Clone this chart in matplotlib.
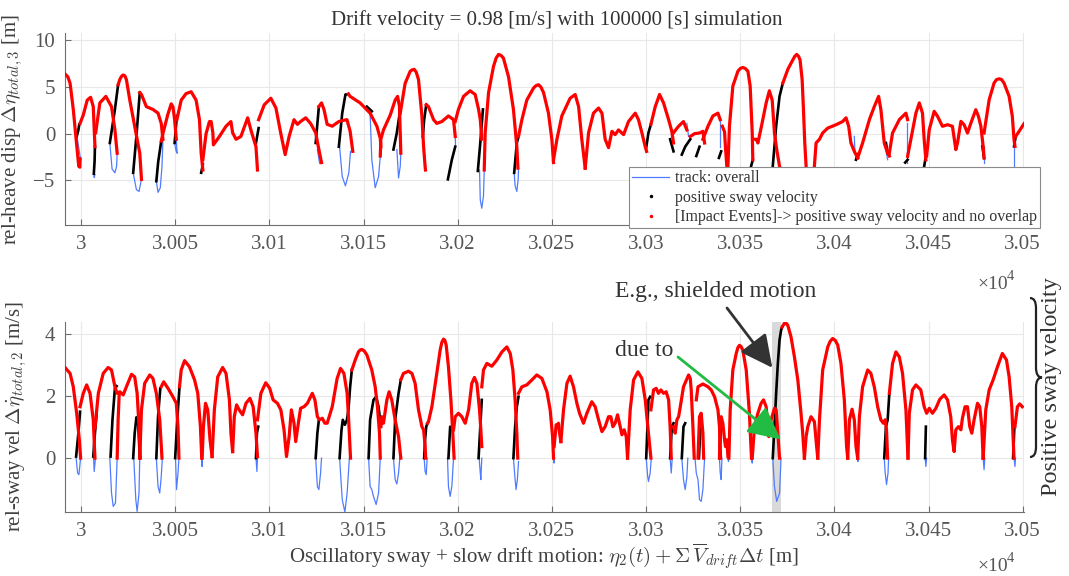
import matplotlib
matplotlib.use("Agg")
import matplotlib.pyplot as plt
from matplotlib.lines import Line2D
from matplotlib.path import Path
from matplotlib.patches import PathPatch

plt.rcParams['font.family'] = ['Liberation Serif', 'DejaVu Serif']
plt.rcParams['mathtext.fontset'] = 'cm'

# sway position is stored as offset [m] from X0
X0 = 30000.0

# ---- rel-heave displacement [m] -------------------------------------------
HEAVE_RED = [
    [(-8.5, 6.4), (-7.0, 6.1), (-5.8, 5.4), (-4.1, 2.6), (-2.6, -0.6), (-1.2, -3.5), (-0.6, -3.6), (-0.5, -2.7)],
    [(-0.5, 1.1), (1.2, 2.0), (3.3, 3.6), (5.1, 3.9), (6.5, 2.9), (7.0, 0.5), (7.4, -1.4)],
    [(7.8, 0.1), (10.0, 3.3), (13.2, 4.0), (16.2, 2.9), (18.0, 0.4), (19.2, -2.1)],
    [(19.7, 5.25), (20.6, 5.8), (21.5, 6.15), (22.4, 6.3), (23.3, 6.2), (24.1, 5.8), (25.9, 3.6), (28.5, 0.8),
     (31.2, -2.1), (32.1, -4.9)],
    [(31.2, 4.4), (32.1, 4.2), (34.7, 2.9), (38.2, 2.6), (40.9, 2.2), (42.6, 1.1), (43.5, -0.6)],
    [(42.6, -0.8), (43.5, 0.0), (46.0, 2.0), (47.9, 3.2), (48.8, 2.9), (49.7, 1.5), (50.6, -0.6)],
    [(50.9, 1.5), (53.2, 3.6), (55.8, 4.3), (58.5, 4.5), (61.1, 3.6), (62.9, 1.5), (63.8, -2.1), (64.7, -3.9)],
    [(64.7, -2.8), (66.4, 0.0), (68.2, 1.3), (69.1, 1.3), (70.0, 0.1), (70.3, -1.2), (73.5, -0.3), (77.0, 0.8),
     (79.6, 1.3), (80.5, 0.1), (82.3, -0.6), (84.9, -0.3), (88.5, 1.7), (90.2, 0.4), (92.9, -1.4), (93.7, -3.9)],
    [(94.3, 1.5), (97.3, 3.1), (100.8, 3.8), (103.5, 2.75), (106.1, 0.0), (108.4, -2.25), (110.5, -0.3),
     (113.1, 1.5), (114.9, 1.0), (116.6, 1.3), (119.3, 1.7), (121.9, 1.1), (124.6, 0.1), (126.3, -1.7), (127.7, -3.1)],
    [(126.3, 2.9), (127.7, 3.3), (129.0, 2.6), (130.7, 1.0), (133.4, 0.8), (136.9, 1.3), (138.7, 1.4),
     (141.2, 1.5), (142.9, 0.25), (144.3, -1.9)],
    [(142.0, 4.25), (142.9, 4.0), (148.2, 3.3), (153.5, 2.2), (157.1, 0.8), (158.9, -0.5), (159.2, -1.4)],
    [(158.9, -2.4), (159.2, -0.6), (160.6, 0.4), (164.2, 2.0), (166.8, 3.6), (168.1, 4.0), (169.1, 2.9),
     (169.5, 0.1), (169.8, -2.1)],
    [(169.5, 2.2), (172.1, 5.4), (174.8, 6.7), (175.9, 6.85), (176.9, 6.9), (178.0, 6.6), (179.2, 5.8),
     (181.0, 1.9), (181.9, -1.4), (182.7, -3.5), (182.9, -3.9)],
    [(183.3, 3.1), (184.5, 2.9), (187.2, 1.5), (188.9, 1.1), (191.6, 1.3), (195.1, 1.9), (197.8, 1.5), (198.7, -0.3)],
    [(198.7, 1.3), (200.4, 2.6), (203.1, 4.0), (206.6, 4.6), (209.3, 4.2), (211.1, 2.6), (212.0, 1.5), (212.8, -0.6)],
    [(214.1, -3.9), (214.6, 0.1), (216.4, 4.4), (219.0, 7.2), (220.4, 8.1), (221.7, 8.5), (223.0, 8.4),
     (224.3, 8.1), (227.0, 6.1), (229.6, 2.6), (231.4, -1.4), (232.0, -3.7)],
    [(232.3, -0.3), (234.1, 1.5), (236.7, 3.6), (240.3, 4.9), (241.6, 5.15), (242.9, 5.25), (244.2, 5.0),
     (245.6, 4.4), (248.2, 2.2), (250.0, -0.6), (250.9, -3.1)],
    [(250.9, -2.8), (252.7, -0.6), (255.3, 1.9), (259.7, 3.8), (262.4, 4.2), (264.2, 2.9), (265.9, -0.6), (267.7, -3.7)],
    [(267.7, -3.7), (269.5, 0.1), (272.1, 2.2), (274.8, 2.75), (276.6, 2.2), (278.3, -0.6), (280.1, -1.5),
     (281.9, 0.25), (283.6, -0.1), (285.4, 0.4), (288.1, -0.1), (290.7, 1.3), (294.3, 2.2), (296.0, 1.5),
     (297.8, 0.1), (299.6, -1.4), (300.3, -1.9)],
    [(302.6, 1.0), (304.9, 2.9), (307.2, 4.2), (309.3, 3.3), (312.0, 1.5), (313.7, 0.25), (314.6, -1.0)],
    [(314.6, 0.1), (317.3, 0.8), (319.9, 1.3), (321.7, 0.4)],
    [(323.5, -0.3), (325.8, 0.0), (328.4, 0.07), (330.2, 0.25), (331.1, -1.0)],
    [(330.2, -0.6), (332.9, 0.8), (335.5, 1.9), (338.2, 2.2), (339.4, 1.5)],
    [(340.5, 0.8), (341.7, 0.2), (342.2, -1.5), (342.9, -3.5), (343.3, -5.5)],
    [(343.5, -3.5), (344.3, 0.8), (346.1, 5.1), (348.8, 6.7), (350.1, 7.0), (351.4, 7.1), (352.7, 7.0),
     (354.1, 6.7), (355.3, 5.1), (356.4, 0.07), (356.7, -2.8)],
    [(356.7, -0.6), (358.5, -0.6), (359.4, -1.0), (361.1, 0.6), (363.8, 3.3), (365.5, 4.6), (367.0, 3.6),
     (368.2, 0.07), (369.4, -1.7), (370.9, -3.5), (371.7, -3.9)],
    [(372.6, 5.4), (375.3, 6.9), (377.9, 7.9), (379.0, 8.3), (380.0, 8.5), (381.0, 8.3), (381.8, 7.9),
     (382.9, 5.8), (383.6, 2.6), (384.3, -1.0), (385.0, -3.5), (385.6, -5.5)],
    [(388.8, -5.5), (389.4, -3.5), (390.3, -1.0), (392.1, -0.6), (393.8, 0.07), (396.5, 0.6), (400.9, 0.96),
     (404.4, 1.3), (406.2, 1.7), (407.6, 0.8), (408.8, -1.0), (410.6, -1.9), (412.4, -2.6)],
    [(412.4, -2.6), (415.0, -1.0), (418.6, 1.5), (421.2, 2.9), (423.5, 4.0), (424.7, 2.6), (426.5, -1.0),
     (428.3, -2.1), (429.2, -2.4)],
    [(429.2, -2.1), (430.9, 0.07), (434.5, 1.5), (438.0, 2.2), (438.9, 1.5)],
    [(438.9, -2.43), (440.6, -0.64), (443.3, 2.2), (445.1, 3.3), (446.8, 2.2), (447.7, -0.64), (448.6, -2.8)],
    [(449.0, -2.4), (450.4, 0.43), (453.0, 2.4), (454.8, 1.86), (457.4, 0.79), (460.1, 0.96), (462.7, 0.79),
     (464.5, -1.71), (465.4, -1.0), (467.2, 1.32), (468.9, 0.96), (470.7, 0.07), (472.5, 1.14), (475.1, 2.57),
     (476.5, 1.86), (477.8, 0.79), (479.0, -1.36), (479.5, -2.61)],
    [(479.5, 0.07), (482.2, 3.64), (484.8, 5.43), (486.1, 5.8), (487.5, 5.89), (488.8, 5.8), (490.1, 5.43),
     (492.8, 4.0), (494.5, 1.86), (495.4, -0.64), (495.9, -1.36)],
    [(496.3, -0.29), (498.1, 0.25), (500.7, 1.07)],
]

HEAVE_BLACK = [
    [(-2.3, -0.3), (-1.5, 0.3), (-0.9, 1.0)],
    [(7.4, -1.4), (7.2, -3.0), (6.8, -4.3)],
    [(15.3, -1.0), (18.0, 2.6), (19.7, 5.25)],
    [(27.7, -4.2), (29.4, -0.3), (31.2, 4.4)],
    [(40.0, -5.1), (41.0, -3.0), (42.6, -0.8)],
    [(49.7, -1.0), (50.9, 1.9)],
    [(63.8, -4.2), (64.7, -3.3)],
    [(92.9, -1.0), (94.3, 0.6)],
    [(124.6, -1.0), (126.3, 2.9)],
    [(136.9, -1.4), (138.7, 2.2), (140.4, 4.2), (142.0, 4.25)],
    [(151.8, 2.9), (154.4, 2.4)],
    [(165.9, -1.7), (167.7, 0.1), (169.5, 2.6)],
    [(181.5, -0.3), (182.2, 1.5), (183.3, 3.1)],
    [(194.8, -4.9), (196.9, -2.8), (198.7, -1.4)],
    [(210.7, -4.0), (212.0, -1.0), (213.4, 2.6)],
    [(230.0, -4.2), (231.4, -1.0), (232.3, -0.3)],
    [(300.1, -1.5), (301.3, 0.1), (302.6, 1.0)],
    [(312.8, -0.6), (314.6, -1.9)],
    [(319.0, -2.25), (320.8, -1.4), (323.5, -0.6)],
    [(326.7, -2.4), (328.4, -1.4)],
    [(338.7, -2.6), (339.9, -1.9)],
    [(355.8, -3.5), (356.7, -2.8)],
    [(367.3, -3.5), (369.1, 0.8), (370.9, 4.0), (372.6, 5.4)],
    [(411.5, -2.8), (412.4, -2.2)],
    [(427.4, -1.0), (428.3, -2.1)],
    [(437.6, -3.1), (438.9, -2.8)],
    [(447.7, -3.5), (448.6, -2.4)],
    [(478.6, -1.36), (479.5, -2.61)],
    [(495.4, -1.36), (496.3, -0.29)],
]

HEAVE_BLUE = [
    [(-2.0, -0.5), (-1.2, -1.5), (-0.5, -2.4), (0.0, -2.8)],
    [(6.8, -4.3), (7.0, -4.7), (7.4, -4.4)],
    [(19.2, -2.1), (18.9, -3.5), (18.0, -4.2), (16.5, -3.8), (15.3, -1.0)],
    [(32.1, -4.9), (30.8, -6.2), (29.4, -6.0), (27.7, -4.2)],
    [(43.5, -0.6), (43.0, -3.5), (42.1, -5.8), (40.9, -6.3), (40.0, -5.1)],
    [(50.6, -0.6), (50.9, -1.7), (51.1, -2.1), (50.4, -1.8), (49.7, -1.0)],
    [(125.5, -1.7), (126.7, -3.2)],
    [(137.3, -1.4), (138.7, -4.6), (140.4, -5.6), (142.2, -4.2), (143.1, -1.9)],
    [(153.5, 2.2), (154.4, -2.8), (156.2, -5.8), (158.0, -4.6), (158.9, -2.4)],
    [(167.7, -1.7), (168.6, -4.75), (169.5, -3.5), (169.8, -2.1)],
    [(198.7, -0.3), (198.9, -1.4)],
    [(211.6, -3.9), (212.0, -7.1), (212.8, -8.0), (213.7, -6.7), (214.1, -3.9)],
    [(230.0, -4.2), (230.5, -5.6), (231.4, -6.2), (232.1, -4.9), (232.3, -3.9)],
    [(321.7, 1.1), (322.6, -0.3)],
    [(339.4, 1.5), (339.4, -1.4)],
    [(410.6, -0.3), (411.0, -2.2)],
    [(427.4, -1.7), (428.3, -2.8)],
    [(438.4, 1.14), (438.4, -3.1)],
    [(479.5, -1.36), (479.5, -3.2)],
    [(495.4, -1.4), (495.4, -3.5)],
]

# ---- rel-sway velocity [m/s] ----------------------------------------------
SWAY_RED = [
    [(-8.5, 2.91), (-5.8, 2.72), (-4.1, 2.29), (-2.3, 1.44), (-0.9, 0.59), (-0.2, 0.0)],
    [(-0.5, 1.65), (1.2, 2.08), (3.0, 2.35), (4.8, 2.08), (6.5, 1.23), (7.4, 0.0)],
    [(7.4, 0.96), (9.2, 2.08), (11.8, 2.72), (14.4, 2.91), (16.2, 2.83), (18.0, 2.29), (19.2, 2.08),
     (20.6, 2.13), (22.4, 2.03), (24.1, 2.29), (26.8, 2.69), (28.5, 2.61), (29.8, 2.08), (30.8, 1.01), (31.5, 0.0)],
    [(19.2, 0.0), (19.7, 1.23), (20.3, 2.08)],
    [(31.2, 0.0), (32.1, 1.55), (33.8, 2.4), (36.5, 2.67), (38.2, 2.56), (40.0, 2.08), (41.8, 1.23), (43.0, 0.0)],
    [(42.6, 2.29), (43.9, 2.45), (46.2, 2.24), (48.8, 1.97), (50.6, 1.76), (51.5, 1.01), (52.0, 0.0)],
    [(52.3, 2.29), (53.2, 2.83), (55.0, 3.13), (57.6, 2.93), (60.3, 2.51), (62.0, 2.08), (63.4, 1.01), (64.1, 0.0)],
    [(64.3, 0.0), (65.0, 1.01), (66.1, 1.76), (67.3, 1.55), (68.5, 0.59), (69.6, 0.05)],
    [(69.6, 0.05), (70.8, 1.55), (72.6, 2.61), (75.2, 2.91), (77.0, 2.72), (78.8, 1.87), (79.6, 0.8), (80.5, 0.21)],
    [(80.5, 0.21), (81.4, 1.33), (82.6, 1.71), (84.0, 1.55), (85.8, 1.39), (87.6, 1.76), (89.7, 1.92),
     (91.4, 1.65), (92.9, 0.8), (93.7, 0.05)],
    [(93.7, 1.23), (95.5, 2.08), (98.1, 2.42), (100.2, 2.24), (102.0, 1.87), (104.3, 1.76), (106.1, 1.55),
     (107.8, 0.91), (109.1, 0.05), (110.5, 0.69), (111.7, 1.55), (113.1, 1.12), (114.0, 0.53), (115.4, 1.12),
     (116.6, 1.6), (118.4, 1.65), (120.2, 1.76), (122.8, 2.08), (124.2, 1.87), (125.5, 1.33), (126.7, 1.23),
     (128.1, 1.28), (129.5, 1.12), (130.7, 1.12), (133.4, 1.65), (136.0, 2.56), (137.8, 2.88), (139.6, 2.72),
     (141.3, 2.08), (142.2, 1.12), (143.1, 0.0)],
    [(143.8, 2.83), (145.6, 3.15), (147.3, 3.41), (148.2, 3.47), (149.1, 3.49), (150.4, 3.44), (151.8, 3.31),
     (154.4, 2.83), (156.2, 2.29), (157.4, 1.65), (158.5, 0.8), (158.9, 0.0)],
    [(159.2, 1.01), (159.7, 1.33), (160.6, 1.12), (162.4, 1.87), (163.6, 2.13), (165.0, 1.87), (166.8, 1.23),
     (168.6, 0.69), (169.8, 0.0)],
    [(169.8, 2.51), (171.2, 2.72), (173.9, 2.79), (175.7, 2.72), (177.4, 2.4), (179.2, 1.55), (181.0, 1.01),
     (181.9, 0.91), (182.7, 0.4), (183.0, 0.0)],
    [(184.0, 1.12), (184.5, 1.17), (186.3, 1.65), (188.9, 2.72), (190.7, 3.47), (191.6, 3.72), (192.5, 3.82),
     (193.2, 3.78), (193.9, 3.63), (195.1, 2.93), (196.4, 1.87), (197.4, 0.8), (198.1, 0.0)],
    [(197.8, 0.91), (198.7, 1.33), (200.4, 1.44), (202.2, 1.33), (204.0, 1.12), (205.8, 1.55), (207.5, 2.4),
     (208.9, 2.59), (210.2, 2.4), (211.6, 1.55), (212.3, 0.91), (212.8, 0.37)],
    [(212.8, 2.29), (213.7, 2.83), (215.5, 3.04), (218.1, 2.95), (220.8, 3.15), (223.5, 3.41), (226.1, 3.57),
     (227.9, 3.36), (229.3, 2.83), (230.5, 1.87), (231.4, 0.8), (231.9, 0.0)],
    [(232.3, 2.08), (234.1, 2.29), (236.7, 2.35), (239.4, 2.51), (242.0, 2.67), (244.7, 2.56), (247.4, 2.13),
     (249.1, 1.55), (250.4, 0.69), (250.9, 0.0)],
    [(251.2, 0.37), (252.3, 1.07), (253.0, 1.01), (253.5, 1.12), (254.1, 0.8), (254.8, 0.53)],
    [(254.8, 0.53), (256.2, 1.55), (258.0, 2.4), (259.7, 2.63), (261.5, 2.29), (263.3, 1.76), (264.7, 1.44),
     (266.8, 1.12), (268.6, 1.44), (271.2, 1.81), (273.0, 1.65), (274.8, 1.23), (276.6, 0.85), (278.3, 1.01),
     (280.1, 1.33), (281.3, 1.33), (282.4, 1.01), (283.6, 1.12), (284.9, 1.39), (286.3, 1.01), (287.2, 0.75),
     (288.4, 0.91), (289.5, 0.69), (290.2, 0.0)],
    [(290.2, 0.0), (291.6, 1.55), (293.4, 2.51), (295.7, 2.77), (297.8, 2.56), (299.6, 1.87), (301.3, 0.8), (302.6, 0.0)],
    [(302.6, 1.55), (304.0, 2.19), (305.4, 2.24), (306.6, 2.08), (307.9, 2.19), (309.3, 2.08), (310.7, 2.13),
     (312.0, 1.87), (312.8, 1.01), (313.4, 0.0)],
    [(314.6, 1.01), (315.5, 0.8), (316.4, 1.23), (317.3, 1.33), (318.2, 1.65), (319.9, 2.29), (322.6, 2.67),
     (323.5, 2.56), (324.0, 2.19), (324.9, 1.01), (325.6, 0.0)],
    [(326.7, 1.87), (327.6, 2.29), (330.2, 2.38), (332.9, 2.29), (334.6, 2.19), (336.4, 1.97), (338.2, 1.55),
     (339.0, 1.01), (339.6, 0.0)],
    [(327.6, 0.0), (328.4, 1.33), (329.3, 1.44), (330.2, 0.8), (330.6, 0.0)],
    [(339.0, 0.0), (339.4, 1.23), (339.9, 1.33), (340.8, 1.12), (341.7, 0.59), (342.2, 0.37), (342.9, 0.59), (343.5, 0.05)],
    [(344.0, 0.0), (344.7, 1.55), (346.1, 2.83), (347.9, 3.36), (348.8, 3.55), (349.6, 3.62), (350.5, 3.58),
     (351.4, 3.47), (353.2, 2.83), (354.9, 1.44), (356.0, 0.0)],
    [(356.4, 0.0), (357.6, 1.01), (359.4, 1.44), (361.1, 1.76), (362.4, 1.87), (363.8, 1.65), (364.7, 1.01),
     (365.2, 0.69), (366.4, 1.23), (368.2, 1.6), (369.1, 1.55), (370.0, 0.8), (370.9, 0.0)],
    [(372.3, 4.21), (373.9, 4.37), (375.3, 4.26), (377.0, 3.89), (378.8, 3.25), (380.6, 2.51), (382.3, 1.44),
     (383.2, 0.8), (384.1, 0.0)],
    [(384.1, 0.0), (385.0, 0.69), (385.9, 1.01), (387.6, 1.33), (389.4, 1.17), (390.6, 0.37), (391.2, 0.0)],
    [(391.2, 0.0), (392.1, 1.23), (393.8, 2.83), (396.5, 3.57), (397.8, 3.75), (399.1, 3.84), (400.5, 3.78),
     (401.8, 3.63), (403.5, 3.04), (405.3, 1.87), (406.5, 0.37), (407.1, 0.0)],
    [(407.1, 0.0), (408.0, 1.23), (409.4, 1.57), (410.6, 1.23), (411.5, 0.37), (412.4, 0.0)],
    [(412.4, 0.0), (413.3, 1.33), (415.0, 2.29), (417.7, 2.83), (419.4, 2.72), (421.2, 2.29), (423.0, 1.65),
     (424.7, 1.23), (426.0, 1.12), (427.0, 1.23), (427.7, 0.91), (428.3, 0.0)],
    [(429.2, 2.08), (430.9, 3.04), (432.7, 3.41), (434.5, 3.25), (436.2, 2.72), (438.0, 1.55), (439.1, 0.0)],
    [(439.1, 0.0), (439.8, 1.44), (441.5, 2.19), (443.3, 2.35), (445.9, 2.19), (447.7, 1.65), (449.0, 1.44),
     (450.4, 1.6), (452.1, 1.44), (453.9, 1.6), (456.0, 1.89), (458.3, 2.03), (460.1, 1.87), (461.8, 1.33),
     (462.7, 0.59), (463.6, 0.21), (464.5, 0.91), (465.9, 1.01), (467.2, 0.91), (468.0, 1.28), (469.4, 1.65),
     (470.7, 1.65), (471.9, 1.01), (473.0, 0.8), (474.2, 1.23), (476.0, 1.76), (477.2, 1.65), (478.3, 1.01), (479.0, 0.0)],
    [(479.0, 0.0), (480.4, 1.55), (482.2, 2.19), (484.3, 2.51), (486.6, 2.93), (489.2, 3.36), (491.4, 3.15),
     (492.8, 2.61), (494.2, 1.65), (495.4, 0.0)],
    [(495.9, 1.01), (497.2, 1.65), (498.4, 1.74), (499.8, 1.65)],
]

SWAY_BLACK = [
    [(-2.6, 0.05), (-1.4, 0.8), (-0.5, 1.49)],
    [(6.5, 0.05), (7.4, 0.8), (8.3, 1.44)],
    [(15.7, 0.05), (16.7, 1.23), (18.0, 2.24), (18.9, 2.31)],
    [(27.7, 0.0), (28.5, 0.8), (29.4, 1.31), (30.3, 1.23), (31.2, 0.0)],
    [(40.0, 0.0), (40.9, 1.33), (42.1, 2.24)],
    [(50.0, 0.0), (51.1, 1.23), (52.3, 2.29)],
    [(92.9, 0.0), (93.4, 0.8), (94.1, 1.01)],
    [(124.6, 0.0), (125.5, 0.8), (126.3, 1.23)],
    [(137.3, 0.0), (138.3, 0.9), (139.0, 1.23), (140.1, 1.07), (141.2, 1.23), (142.0, 1.55), (142.9, 2.29), (143.8, 2.83)],
    [(152.7, 0.0), (153.5, 1.23), (155.3, 1.87), (156.7, 1.97), (158.0, 1.65), (159.2, 1.01)],
    [(165.9, 0.0), (166.8, 1.23), (168.6, 2.08), (169.8, 2.51)],
    [(182.2, 0.0), (182.7, 0.6), (183.3, 1.01), (184.0, 1.12)],
    [(195.1, 0.0), (196.0, 1.01), (197.4, 0.91)],
    [(211.1, 0.0), (212.0, 1.01), (212.8, 1.87)],
    [(229.6, 0.0), (230.5, 1.01), (231.4, 1.65), (232.3, 1.97)],
    [(300.1, 0.0), (300.9, 1.23), (301.3, 1.87), (302.2, 1.97)],
    [(312.8, 0.0), (313.7, 1.01), (314.6, 1.12)],
    [(319.0, 0.0), (319.9, 1.01), (320.8, 1.12)],
    [(328.1, 0.0), (328.8, 0.9), (329.3, 1.3)],
    [(339.0, 0.0), (339.6, 0.8), (339.9, 1.23)],
    [(367.3, 0.0), (368.2, 1.01), (369.1, 2.08), (370.0, 3.04), (370.9, 3.79), (371.7, 4.1), (372.3, 4.21)],
    [(426.5, 0.0), (427.4, 1.01), (428.3, 1.23), (429.2, 2.08)],
    [(448.2, 0.0), (448.6, 1.01)],
    [(479.0, 0.0), (479.5, 1.01)],
    [(494.9, 0.0), (495.6, 1.01)],
]

SWAY_BLUE = [
    [(-2.6, 0.0), (-1.8, -0.48), (-1.1, -0.53), (-0.5, -0.16), (-0.2, 0.0)],
    [(6.7, 0.0), (7.0, -0.43), (7.6, -0.05)],
    [(15.3, 0.0), (16.2, -1.12), (17.1, -1.55), (18.3, -1.44), (19.2, 0.0)],
    [(28.0, 0.0), (29.1, -1.33), (29.8, -1.71), (30.8, -1.12), (31.2, 0.0)],
    [(40.0, 0.0), (40.9, -0.91), (41.8, -1.12), (42.6, -0.59), (43.2, 0.0)],
    [(50.2, 0.0), (50.7, -1.01), (51.5, -0.48), (52.0, 0.0)],
    [(64.1, 0.0), (64.3, -0.27), (64.4, 0.0)],
    [(92.9, 0.0), (93.4, -0.43), (93.7, 0.0)],
    [(124.6, 0.0), (125.5, -0.91), (126.3, -1.01), (127.2, -0.48), (127.7, 0.0)],
    [(137.3, 0.0), (138.7, -1.33), (140.1, -1.73), (141.3, -1.12), (142.5, 0.0)],
    [(152.7, 0.0), (153.5, -0.91), (154.4, -1.01), (155.3, -1.23), (156.7, -1.49), (158.0, -1.12), (158.9, 0.0)],
    [(165.9, 0.0), (166.8, -0.69), (167.7, -0.83), (168.6, -0.48), (169.3, 0.0)],
    [(182.2, 0.0), (182.7, -0.43), (183.3, -0.53), (183.8, 0.0)],
    [(194.6, 0.0), (195.1, -0.91), (196.0, -1.23), (196.9, -0.91), (197.8, 0.0)],
    [(211.4, 0.0), (212.0, -0.48), (212.3, -0.69), (212.8, 0.0)],
    [(229.6, 0.0), (230.5, -0.69), (231.0, -1.01), (231.7, -0.69), (232.3, -0.11)],
    [(250.9, 0.0), (251.2, -0.16), (251.4, 0.0)],
    [(300.1, 0.0), (300.9, -0.59), (301.3, -0.75), (302.2, -0.48), (302.8, 0.0)],
    [(312.8, 0.0), (313.4, -0.48), (313.9, 0.0)],
    [(319.0, 0.0), (319.9, -0.69), (320.8, -1.01), (321.7, -0.6), (322.2, 0.0)],
    [(326.0, 0.0), (326.7, -0.48), (327.6, -0.69), (328.4, -1.33), (329.3, -1.39), (330.2, -1.01), (331.1, 0.0)],
    [(339.0, 0.0), (339.4, -0.48), (339.9, -0.69), (340.3, 0.0)],
    [(343.5, 0.0), (343.8, -0.11), (344.0, 0.0)],
    [(356.0, 0.0), (356.4, -0.16), (356.6, 0.0)],
    [(367.3, 0.0), (368.2, -0.91), (369.4, -1.39), (370.9, -1.12), (371.7, 0.0)],
    [(412.4, 0.0), (412.5, -0.11), (412.7, 0.0)],
    [(426.5, 0.0), (427.0, -0.48), (427.7, -0.85), (428.5, -0.48), (428.8, 0.0)],
    [(448.2, 0.0), (448.6, -0.27), (449.0, 0.0)],
    [(479.0, 0.0), (479.5, -0.37), (479.9, 0.0)],
    [(495.4, 0.0), (495.9, -0.27), (496.2, 0.0)],
]

SHIELDED = (367.1, 371.9)
X_TICKS = [0, 50, 100, 150, 200, 250, 300, 350, 400, 450, 500]

BLUE = '#4f7cff'
AXIS_GRAY = '#6e6e6e'
TEXT_GRAY = '#404040'

W, H = 1069, 576


def px(x, y):
    """Figure pixel (from top-left) to figure fraction."""
    return x / W, 1 - y / H


def draw_track(ax, blue, black, red):
    for seg in blue + black + red:
        xs, ys = zip(*seg)
        ax.plot([X0 + v for v in xs], ys, color=BLUE, lw=0.9, zorder=2)
    for seg in black:
        xs, ys = zip(*seg)
        ax.plot([X0 + v for v in xs], ys, color='k', lw=1.9, zorder=3)
    for seg in red:
        xs, ys = zip(*seg)
        ax.plot([X0 + v for v in xs], ys, color='#ff0000', lw=2.3, zorder=4,
                solid_joinstyle='round')


def style_axes(ax):
    for side in ('top', 'right'):
        ax.spines[side].set_visible(False)
    for side in ('left', 'bottom'):
        ax.spines[side].set_color(AXIS_GRAY)
        ax.spines[side].set_linewidth(0.8)
    ax.set_axisbelow(True)
    ax.grid(True, color='#e8e8e8', lw=0.8)
    ax.tick_params(direction='in', length=4, width=0.8, color=AXIS_GRAY,
                   labelsize=15, labelcolor='#555555', pad=7)
    ax.set_xlim(X0 - 8.5, X0 + 500.7)
    ax.set_xticks([X0 + t for t in X_TICKS])
    ax.set_xticklabels(['%g' % ((X0 + t) / 1e4) for t in X_TICKS])


def times_ten(fig, x, y):
    # x10^4 multiplier written next to the axis, baseline at pixel row y
    fig.text(*px(x, y), '\u00d710', fontsize=14, color='#555555', va='baseline')
    fig.text(*px(x + 30, y - 9), '4', fontsize=10.5, color='#555555', va='baseline')


fig = plt.figure(figsize=(W / 100, H / 100), dpi=100)
ax1 = fig.add_axes([65 / W, 1 - 225 / H, 959 / W, 192 / H])
ax2 = fig.add_axes([65 / W, 1 - 512 / H, 959 / W, 190 / H])

# heave displacement
style_axes(ax1)
draw_track(ax1, HEAVE_BLUE, HEAVE_BLACK, HEAVE_RED)
ax1.set_ylim(-9.8, 10.8)
ax1.set_yticks([-5, 0, 5, 10])
ax1.set_ylabel(r'rel-heave disp $\Delta\eta_{total,3}$ [m]', fontsize=15, color=TEXT_GRAY)
ax1.yaxis.set_label_coords(-0.042, 0.5)

handles = [
    Line2D([], [], color=BLUE, lw=0.9),
    Line2D([], [], color='k', ls='none', marker='.', ms=3),
    Line2D([], [], color='#ff0000', ls='none', marker='.', ms=3),
]
labels = ['track: overall', 'positive sway velocity',
          '[Impact Events]-> positive sway velocity and no overlap']
leg = ax1.legend(handles, labels, loc='upper left', bbox_to_anchor=px(629, 167),
                 bbox_transform=fig.transFigure, fontsize=11.5, frameon=True,
                 fancybox=False, framealpha=1, edgecolor='#8a8a8a',
                 borderpad=0.2, handlelength=2.3, handletextpad=0.35,
                 labelspacing=0.22, borderaxespad=0)
leg.get_frame().set_linewidth(0.8)
leg.set_zorder(10)
for t in leg.get_texts():
    t.set_color('#333333')

fig.text(*px(557, 20), 'Drift velocity = 0.98 [m/s] with 100000 [s] simulation',
         fontsize=15, color='#333333', ha='center', va='center')
times_ten(fig, 977, 289)

# sway velocity
style_axes(ax2)
ax2.axvspan(X0 + SHIELDED[0], X0 + SHIELDED[1], color='#d9d9d9', lw=0, zorder=1)
draw_track(ax2, SWAY_BLUE, SWAY_BLACK, SWAY_RED)
ax2.set_ylim(-1.73, 4.37)
ax2.set_yticks([0, 2, 4])
ax2.set_ylabel(r'rel-sway vel $\Delta\dot{\eta}_{total,2}$ [m/s]', fontsize=15, color=TEXT_GRAY)
ax2.yaxis.set_label_coords(-0.038, 0.5)
fig.text(*px(544, 556),
         r'Oscillatory sway + slow drift motion: $\eta_2(t) + \Sigma\,\overline{V}_{drift}\Delta t$ [m]',
         fontsize=15, color=TEXT_GRAY, ha='center', va='center')
times_ten(fig, 977, 571)

# annotations
fig.text(*px(615, 292), 'E.g., shielded motion', fontsize=17, color='#333333', va='center')
ax2.annotate('', xy=(X0 + 367.1, 2.90), xycoords='data',
             xytext=px(727, 308), textcoords='figure fraction',
             arrowprops=dict(arrowstyle='-|>,head_length=0.9,head_width=0.45',
                             color='#333333', lw=2, mutation_scale=22, shrinkA=0, shrinkB=0),
             annotation_clip=False, zorder=8)
fig.text(*px(615, 350), 'due to', fontsize=17, color='#333333', va='center')
ax2.annotate('', xy=(X0 + 371.5, 0.60), xycoords='data',
             xytext=px(678, 357), textcoords='figure fraction',
             arrowprops=dict(arrowstyle='-|>,head_length=0.9,head_width=0.45',
                             color='#22bb44', lw=2, mutation_scale=22, shrinkA=0, shrinkB=0),
             annotation_clip=False, zorder=8)

# right-hand brace with its caption
bx, by0, by1, bw = 1030, 298, 457, 12
bym = (by0 + by1) / 2
mid = bx + bw / 2
brace_pts = [(bx, by0), (mid, by0), (mid, by0 + 10), (mid, bym - 10), (mid, bym), (bx + bw, bym),
             (mid, bym), (mid, bym + 10), (mid, by1 - 10), (mid, by1), (bx, by1)]
codes = [Path.MOVETO, Path.CURVE3, Path.CURVE3, Path.LINETO, Path.CURVE3, Path.CURVE3,
         Path.CURVE3, Path.CURVE3, Path.LINETO, Path.CURVE3, Path.CURVE3]
brace = Path([px(*p) for p in brace_pts], codes)
fig.add_artist(PathPatch(brace, transform=fig.transFigure, fill=False, lw=1.6, color='#222222'))
fig.text(*px(1052, 387), 'Positive sway velocity', fontsize=17.5, color='#333333',
         rotation=90, ha='center', va='center')

fig.savefig('out.png', dpi=100)
